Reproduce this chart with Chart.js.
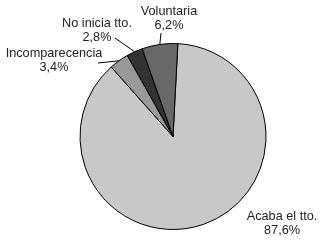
<!DOCTYPE html>
<html>
<head>
<meta charset="utf-8">
<script src="https://cdn.jsdelivr.net/npm/chart.js@4"></script>
<style>
  html, body { margin: 0; padding: 0; background: #fff; }
  #wrap { width: 322px; height: 244px; }
</style>
</head>
<body>
<div id="wrap"><canvas id="pie-chart" width="322" height="244"></canvas></div>
<script>
// slice data, clockwise from the top
const categories = ['Acaba el tto.', 'Incomparecencia', 'No inicia tto.', 'Voluntaria'];
const percents = [87.6, 3.4, 2.8, 6.2];
const sliceColors = ['#c8c8c8', '#999999', '#333333', '#686868'];

// where each label text sits (centre x, baseline of first line) and where its leader starts
const labelSpots = [
    { x: 282, y: 220, leader: null },
    { x: 54, y: 57, leader: [98, 63] },
    { x: 97, y: 27, leader: [115, 38] },
    { x: 169, y: 15, leader: [161, 33] }
];

const fmt = v => v.toFixed(1).replace('.', ',') + '%';

// draws the outside labels and the small leader lines
const outsideLabels = {
    id: 'outsideLabels',
    afterDatasetsDraw(chart) {
        const ctx = chart.ctx;
        const arcs = chart.getDatasetMeta(0).data;
        ctx.save();
        ctx.font = '12.7px "Liberation Sans", Arial, sans-serif';
        ctx.fillStyle = '#222';
        ctx.textAlign = 'center';
        ctx.textBaseline = 'alphabetic';
        arcs.forEach((arc, i) => {
            const spot = labelSpots[i];
            ctx.fillText(categories[i], spot.x, spot.y);
            ctx.fillText(fmt(percents[i]), spot.x, spot.y + 14);
            if (spot.leader) {
                const mid = (arc.startAngle + arc.endAngle) / 2;
                const ex = arc.x + Math.cos(mid) * arc.outerRadius;
                const ey = arc.y + Math.sin(mid) * arc.outerRadius;
                ctx.strokeStyle = '#000';
                ctx.lineWidth = 1;
                ctx.beginPath();
                ctx.moveTo(spot.leader[0], spot.leader[1]);
                ctx.lineTo(ex, ey);
                ctx.stroke();
            }
        });
        ctx.restore();
    }
};

new Chart(document.getElementById('pie-chart'), {
    type: 'pie',
    data: {
        labels: categories,
        datasets: [{
            data: percents,
            backgroundColor: sliceColors,
            borderColor: '#000',
            borderWidth: 1
        }]
    },
    options: {
        responsive: false,
        animation: false,
        rotation: 3,
        layout: { padding: { top: 43, bottom: 14, left: 60, right: 36 } },
        plugins: {
            legend: { display: false },
            tooltip: { enabled: false }
        }
    },
    plugins: [outsideLabels]
});
</script>
</body>
</html>
